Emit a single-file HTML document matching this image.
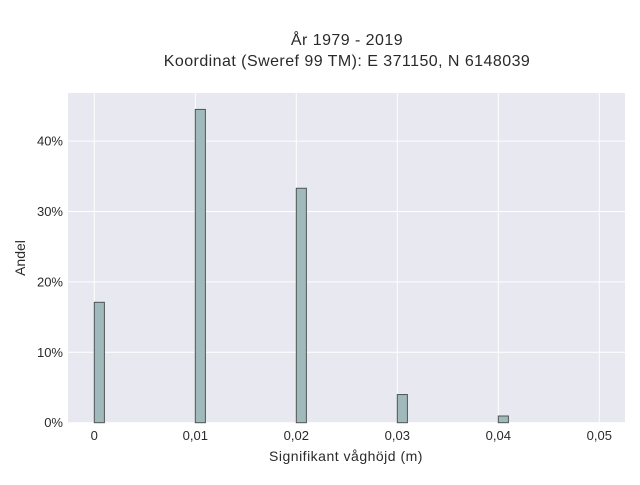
<!DOCTYPE html>
<html><head><meta charset="utf-8"><style>
body{margin:0;background:#fff;}
svg text{font-family:"Liberation Sans",sans-serif;fill:#2a2a2a;}
</style></head><body>
<svg width="640" height="480">
<text x="347" y="45" font-size="16" letter-spacing="0.45" text-anchor="middle">År 1979 - 2019</text>
<text x="347" y="66" font-size="16" letter-spacing="0.45" text-anchor="middle">Koordinat (Sweref 99 TM): E 371150, N 6148039</text>
<rect x="68" y="93" width="557" height="330" fill="#e8e8f0"/>
<g id="grid"></g><g id="bars"></g><g id="ticks"></g>
<text x="346" y="461" font-size="14" letter-spacing="0.5" text-anchor="middle">Signifikant våghöjd (m)</text>
<text transform="translate(25,258) rotate(-90)" font-size="14" text-anchor="middle">Andel</text>
</svg>
<script>
const binStarts=[0,0.01,0.02,0.03,0.04];
const shares=[17.1,44.5,33.3,4.0,0.95];
const xTicks=[0,0.01,0.02,0.03,0.04,0.05];
const xTickLabels=["0","0,01","0,02","0,03","0,04","0,05"];
const yTicks=[0,10,20,30,40];
const yTickLabels=["0%","10%","20%","30%","40%"];
const binWidth=0.001;
const NS="http://www.w3.org/2000/svg";
const X=v=>94.3+v*10100;
const Y=v=>422.7-v*7.04;
function mk(tag,attrs,parent){const e=document.createElementNS(NS,tag);for(const k in attrs)e.setAttribute(k,attrs[k]);document.getElementById(parent).appendChild(e);return e;}
xTicks.forEach((t,i)=>{
 const l=mk('line',{x1:X(t),x2:X(t),y1:93,y2:423,stroke:'#fff','stroke-width':1},'grid');
 
 
 const tx=mk('text',{x:X(t),y:440,'font-size':13,'text-anchor':'middle'},'ticks');
 tx.textContent=xTickLabels[i];
 
 
});
yTicks.forEach((t,i)=>{
 const l=mk('line',{x1:68,x2:625,y1:Y(t),y2:Y(t),stroke:'#fff','stroke-width':1},'grid');
 
 
 const tx=mk('text',{x:63,y:Y(t)+4.5,'font-size':13,'text-anchor':'end'},'ticks');
 tx.textContent=yTickLabels[i];
 
 
});
binStarts.forEach((b,i)=>{
 const r=mk('rect',{x:X(b),y:Y(shares[i]),width:X(b+binWidth)-X(b),height:Y(0)-Y(shares[i]),fill:'#a0b9bb',stroke:'#4f5555','stroke-width':1},'bars');
 
 
});
</script>
</body></html>
